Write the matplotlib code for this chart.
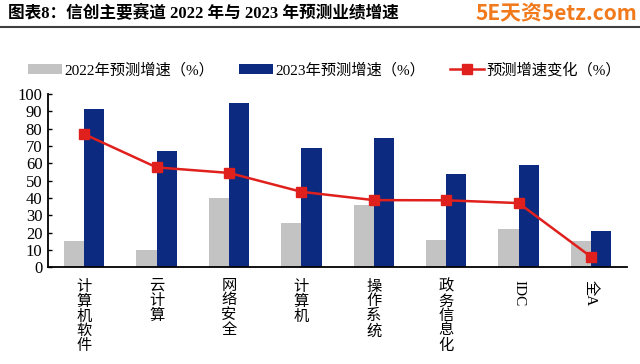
import matplotlib.pyplot as plt
import numpy as np

plt.rcParams['font.family'] = ['Liberation Serif', 'Noto Sans CJK SC', 'DejaVu Sans']

categories = ['计算机软件', '云计算', '网络安全', '计算机', '操作系统', '政务信息化', 'IDC', '全A']
growth_2022 = [14.9, 9.7, 40.2, 25.5, 35.8, 15.9, 22.2, 15.3]
growth_2023 = [91.5, 67.0, 94.6, 68.7, 74.5, 54.0, 58.8, 21.0]
growth_change = [76.8, 57.6, 54.4, 43.5, 38.7, 38.6, 37.0, 6.0]

gray = '#c3c3c3'
navy = '#0b2a80'
red = '#e0201c'

fig = plt.figure(figsize=(6.4, 3.64), dpi=100)
ax = fig.add_axes([0.075, 0.266, 0.905, 0.476])

x = np.arange(len(categories))
w = 0.28
b1 = ax.bar(x - w / 2, growth_2022, w, color=gray, label='2022年预测增速（%）')
b2 = ax.bar(x + w / 2, growth_2023, w, color=navy, label='2023年预测增速（%）')
l1, = ax.plot(x, growth_change, color=red, lw=1.8, marker='s', ms=7,
              mfc=red, mec=red, label='预测增速变化（%）')

ax.set_xlim(-0.5, len(categories) - 0.5)
ax.set_ylim(0, 100)
ax.set_yticks(range(0, 101, 10))
ax.tick_params(axis='y', direction='in', length=3, width=1, labelsize=12, pad=4)
ax.tick_params(axis='x', length=0, pad=9)
for s in ['top', 'right']:
    ax.spines[s].set_visible(False)
for s in ['left', 'bottom']:
    ax.spines[s].set_linewidth(1.3)

ax.set_xticks(x)
labels = []
for c in categories:
    if c.isascii() or 'A' in c:
        labels.append(c)
    else:
        labels.append('\n'.join(c))
ax.set_xticklabels(labels, fontsize=11, va='top', linespacing=1.08)
for lab, c in zip(ax.get_xticklabels(), categories):
    if 'A' in c or c.isascii():
        lab.set_rotation(-90)

ax.legend(handles=[b1, b2, l1], loc='lower left', bbox_to_anchor=(-0.045, 1.06),
          ncol=3, frameon=False, fontsize=11, handlelength=2.2, handletextpad=0.2,
          columnspacing=1.6, borderaxespad=0)

fig.text(0.012, 0.963, '图表8：信创主要赛道 2022 年与 2023 年预测业绩增速',
         fontsize=12, fontweight='bold', va='center', ha='left')
fig.add_artist(plt.Line2D([0, 1], [0.925, 0.925], color='#404040', lw=1.5))
fig.text(0.995, 0.963, '5E天资5etz.com', fontsize=15, fontweight='bold',
         color='#f07a1c', va='center', ha='right', family=['Noto Sans CJK SC'])

fig.savefig('out.png', dpi=100)
